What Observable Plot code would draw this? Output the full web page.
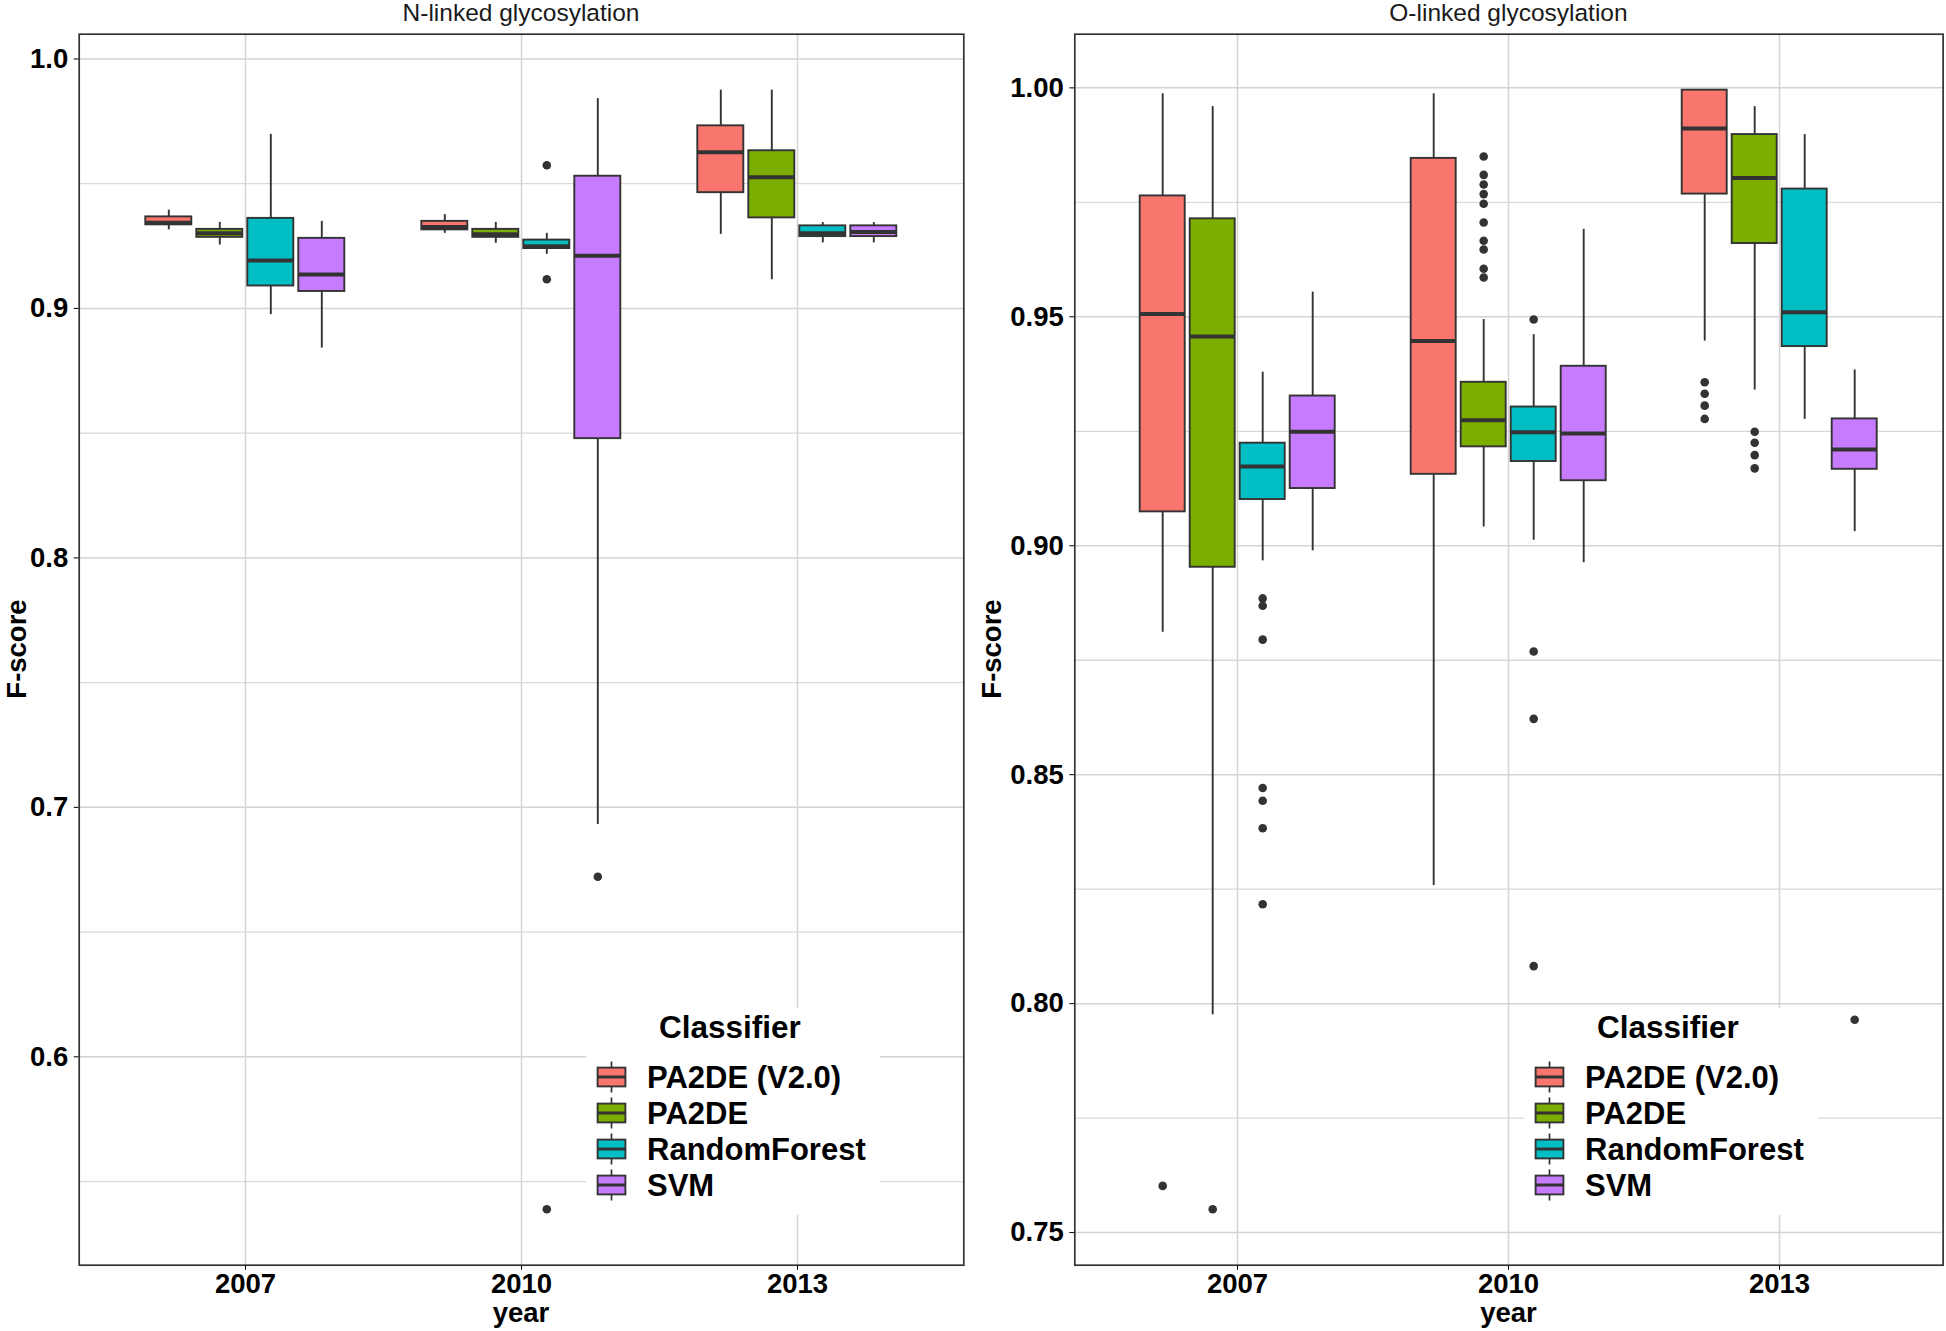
<!DOCTYPE html>
<html>
<head>
<meta charset="utf-8">
<script src="https://cdn.jsdelivr.net/npm/d3@7"></script>
<script src="https://cdn.jsdelivr.net/npm/@observablehq/plot@0.6"></script>
<style>
  body { margin: 0; background: #fff; }
  #fig { position: relative; width: 1946px; height: 1331px; background: #fff; overflow: hidden;
         font-family: "Liberation Sans", Arial, Helvetica, sans-serif; color: #000; }
  .layer { position: absolute; top: 0; height: 1331px; }
  .layer svg { position: absolute; left: 0; top: 0; }
  .ptitle { position: absolute; top: 1px; font-size: 24.5px; line-height: 24.5px; white-space: nowrap;
            transform: translateX(-50%); color: #1a1a1a; }
  .xlab { position: absolute; font-size: 27.5px; line-height: 20px; font-weight: bold; white-space: nowrap;
          transform: translateX(-50%); }
  .ylab { position: absolute; font-size: 27.5px; line-height: 21px; font-weight: bold; white-space: nowrap;
          transform: translate(-50%, -50%) rotate(-90deg); }
  .legend { position: absolute; background: #fff; width: 294px; height: 207px; }
  .legend .ltitle { position: absolute; left: 73px; top: 4px; font-size: 31.5px; line-height: 31.5px; font-weight: bold; white-space: nowrap; }
  .legend .llab { position: absolute; left: 61px; font-size: 31px; line-height: 31px; font-weight: bold; white-space: nowrap; }
  .legend svg { position: absolute; left: 10px; }
</style>
</head>
<body>
<div id="fig"></div>
<script>
// ---------------- data ----------------
const years = ["2007", "2010", "2013"];
const classifiers = ["PA2DE (V2.0)", "PA2DE", "RandomForest", "SVM"];
const colors = ["#F8766D", "#7CAE00", "#00BFC4", "#C77CFF"];

// N-linked glycosylation: box statistics, year-major order (2007: 4 classifiers, 2010: ..., 2013: ...)
const nLow  = [0.9315, 0.9254, 0.8975, 0.8841, 0.9301, 0.9261, 0.9217, 0.6931, 0.9297, 0.9115, 0.9263, 0.9263];
const nQ1   = [0.9335, 0.9285, 0.9090, 0.9068, 0.9315, 0.9285, 0.9240, 0.8478, 0.9464, 0.9363, 0.9288, 0.9288];
const nMed  = [0.9343, 0.9301, 0.9192, 0.9136, 0.9326, 0.9297, 0.9249, 0.9211, 0.9626, 0.9526, 0.9301, 0.9306];
const nQ3   = [0.9367, 0.9317, 0.9361, 0.9281, 0.9349, 0.9317, 0.9274, 0.9530, 0.9732, 0.9632, 0.9331, 0.9331];
const nHigh = [0.9394, 0.9345, 0.9698, 0.9349, 0.9376, 0.9345, 0.9301, 0.9841, 0.9875, 0.9875, 0.9344, 0.9344];
const nOutYear = ["2010", "2010", "2010", "2010"];
const nOutCls  = ["RandomForest", "RandomForest", "RandomForest", "SVM"];
const nOutVal  = [0.9574, 0.9117, 0.5389, 0.6722];

// O-linked glycosylation
const oLow  = [0.8811, 0.7976, 0.8967, 0.8989, 0.8258, 0.9041, 0.9012, 0.8963, 0.9447, 0.9340, 0.9276, 0.9031];
const oQ1   = [0.9074, 0.8953, 0.9101, 0.9125, 0.9156, 0.9216, 0.9184, 0.9142, 0.9768, 0.9660, 0.9435, 0.9167];
const oMed  = [0.9506, 0.9457, 0.9173, 0.9249, 0.9447, 0.9274, 0.9248, 0.9245, 0.9911, 0.9803, 0.9510, 0.9210];
const oQ3   = [0.9764, 0.9714, 0.9224, 0.9327, 0.9846, 0.9357, 0.9303, 0.9392, 0.9995, 0.9898, 0.9779, 0.9277];
const oHigh = [0.9987, 0.9959, 0.9379, 0.9554, 0.9987, 0.9494, 0.9461, 0.9691, 0.9995, 0.9959, 0.9898, 0.9384];
const oOutYear = ["2007", "2007",
  "2007", "2007", "2007", "2007", "2007", "2007", "2007",
  "2010", "2010", "2010", "2010", "2010", "2010", "2010", "2010", "2010", "2010",
  "2010", "2010", "2010", "2010",
  "2013", "2013", "2013", "2013",
  "2013", "2013", "2013", "2013",
  "2013"];
const oOutCls = ["PA2DE (V2.0)", "PA2DE",
  "RandomForest", "RandomForest", "RandomForest", "RandomForest", "RandomForest", "RandomForest", "RandomForest",
  "PA2DE", "PA2DE", "PA2DE", "PA2DE", "PA2DE", "PA2DE", "PA2DE", "PA2DE", "PA2DE", "PA2DE",
  "RandomForest", "RandomForest", "RandomForest", "RandomForest",
  "PA2DE (V2.0)", "PA2DE (V2.0)", "PA2DE (V2.0)", "PA2DE (V2.0)",
  "PA2DE", "PA2DE", "PA2DE", "PA2DE",
  "SVM"];
const oOutVal = [0.7602, 0.7551,
  0.8885, 0.8869, 0.8795, 0.8471, 0.8443, 0.8383, 0.8217,
  0.9850, 0.9810, 0.9789, 0.9768, 0.9747, 0.9706, 0.9666, 0.9647, 0.9605, 0.9586,
  0.9494, 0.8769, 0.8622, 0.8082,
  0.9357, 0.9332, 0.9306, 0.9277,
  0.9249, 0.9225, 0.9198, 0.9169,
  0.7965];

// axis ticks
const nTicks = [0.6, 0.7, 0.8, 0.9, 1.0];
const nMinor = [0.55, 0.65, 0.75, 0.85, 0.95];
const oTicks = [0.75, 0.80, 0.85, 0.90, 0.95, 1.00];
const oMinor = [0.775, 0.825, 0.875, 0.925, 0.975];

// ---------------- helpers ----------------
const FONT = '"Liberation Sans", Arial, Helvetica, sans-serif';
const H = 1331;

function boxRows(low, q1, med, q3, high) {
  const rows = [];
  years.forEach((yr, i) => classifiers.forEach((c, j) => {
    const k = i * classifiers.length + j;
    rows.push({year: yr, cls: c, low: low[k], q1: q1[k], med: med[k], q3: q3[k], high: high[k]});
  }));
  return rows;
}
function outRows(ys, cs, vs) {
  return vs.map((v, i) => ({year: ys[i], cls: cs[i], v}));
}
// ggplot-style 5% expansion of the data range
function expandedDomain(rows, outs) {
  const vals = rows.flatMap(d => [d.low, d.high]).concat(outs.map(d => d.v));
  const lo = d3.min(vals), hi = d3.max(vals), e = (hi - lo) * 0.05;
  return [lo - e, hi + e];
}

function panel({left, width, margins, title, rows, outs, major, minor, fmt, ylabX, legendLeft}) {
  const fig = document.getElementById("fig");
  const layer = document.createElement("div");
  layer.className = "layer";
  layer.style.left = left + "px";
  layer.style.width = width + "px";
  fig.appendChild(layer);

  const domain = expandedDomain(rows, outs);
  const common = {
    width, height: H,
    marginLeft: margins.left, marginRight: margins.right,
    marginTop: margins.top, marginBottom: margins.bottom
  };

  // background: grid, frame and axes
  const bg = Plot.plot({
    ...common,
    style: {background: "none", fontFamily: FONT, fontSize: "27.5px", fontWeight: "bold", color: "#000", overflow: "visible"},
    x: {type: "point", domain: years, padding: 0.6, label: null, tickSize: 5, tickPadding: 3},
    y: {domain, ticks: major, tickFormat: d3.format(fmt), label: null, tickSize: 5, tickPadding: 6},
    marks: [
      Plot.ruleY(minor, {stroke: "#d9d9d9", strokeWidth: 1.3}),
      Plot.ruleY(major, {stroke: "#d4d4d4", strokeWidth: 1.5}),
      Plot.ruleX(years, {stroke: "#d4d4d4", strokeWidth: 1.5}),
      Plot.frame({stroke: "#333333", strokeWidth: 1.7})
    ]
  });
  layer.appendChild(bg);

  // foreground: dodged boxplots (fx = year, x = classifier)
  const fg = Plot.plot({
    ...common,
    style: {background: "none", overflow: "visible"},
    fx: {domain: years, paddingInner: 0.25, paddingOuter: 0.225, axis: null, label: null},
    x: {domain: classifiers, paddingInner: 0.1, paddingOuter: 0.05, axis: null, label: null},
    y: {domain, axis: null, label: null},
    color: {domain: classifiers, range: colors},
    marks: [
      Plot.ruleX(rows, {fx: "year", x: "cls", y1: "low", y2: "q1", stroke: "#333333", strokeWidth: 1.9}),
      Plot.ruleX(rows, {fx: "year", x: "cls", y1: "q3", y2: "high", stroke: "#333333", strokeWidth: 1.9}),
      Plot.barY(rows, {fx: "year", x: "cls", y1: "q1", y2: "q3", fill: "cls", stroke: "#333333", strokeWidth: 1.9}),
      Plot.tickY(rows, {fx: "year", x: "cls", y: "med", stroke: "#333333", strokeWidth: 4}),
      Plot.dot(outs, {fx: "year", x: "cls", y: "v", r: 4.3, fill: "#333333", stroke: "none"})
    ]
  });
  layer.appendChild(fg);

  const frameL = left + margins.left, frameR = left + width - margins.right;
  const cx = (frameL + frameR) / 2;
  const cy = (margins.top + (H - margins.bottom)) / 2;

  const t = document.createElement("div");
  t.className = "ptitle"; t.textContent = title;
  t.style.left = cx + "px";
  fig.appendChild(t);

  const xl = document.createElement("div");
  xl.className = "xlab"; xl.textContent = "year";
  xl.style.left = cx + "px"; xl.style.top = "1303px";
  fig.appendChild(xl);

  const yl = document.createElement("div");
  yl.className = "ylab"; yl.textContent = "F-score";
  yl.style.left = ylabX + "px"; yl.style.top = cy + "px";
  fig.appendChild(yl);

  // legend
  const lg = document.createElement("div");
  lg.className = "legend";
  lg.style.left = legendLeft + "px"; lg.style.top = "1008px";
  const lt = document.createElement("div");
  lt.className = "ltitle"; lt.textContent = "Classifier";
  lg.appendChild(lt);
  classifiers.forEach((c, i) => {
    const rc = 68.7 + 36.2 * i;
    const svg = d3.create("svg").attr("width", 31).attr("height", 34)
      .style("top", (rc - 17) + "px");
    svg.append("line").attr("x1", 15.5).attr("x2", 15.5).attr("y1", 1.5).attr("y2", 32.5)
      .attr("stroke", "#333333").attr("stroke-width", 1.7);
    svg.append("rect").attr("x", 1.6).attr("y", 7.6).attr("width", 27.8).attr("height", 18.8)
      .attr("fill", colors[i]).attr("stroke", "#333333").attr("stroke-width", 1.9);
    svg.append("line").attr("x1", 1.6).attr("x2", 29.4).attr("y1", 17).attr("y2", 17)
      .attr("stroke", "#333333").attr("stroke-width", 3);
    lg.appendChild(svg.node());
    const lab = document.createElement("div");
    lab.className = "llab"; lab.textContent = c;
    lab.style.top = (rc - 15.2) + "px";
    lg.appendChild(lab);
  });
  fig.appendChild(lg);
}

panel({
  left: 0, width: 970,
  margins: {left: 78.7, right: 6.7, top: 33.7, bottom: 66.3},
  title: "N-linked glycosylation",
  rows: boxRows(nLow, nQ1, nMed, nQ3, nHigh),
  outs: outRows(nOutYear, nOutCls, nOutVal),
  major: nTicks, minor: nMinor, fmt: ".1f",
  ylabX: 16, legendLeft: 586
});
panel({
  left: 970, width: 976,
  margins: {left: 104.3, right: 3.4, top: 33.7, bottom: 66.3},
  title: "O-linked glycosylation",
  rows: boxRows(oLow, oQ1, oMed, oQ3, oHigh),
  outs: outRows(oOutYear, oOutCls, oOutVal),
  major: oTicks, minor: oMinor, fmt: ".2f",
  ylabX: 991.3, legendLeft: 1524
});
</script>
</body>
</html>
